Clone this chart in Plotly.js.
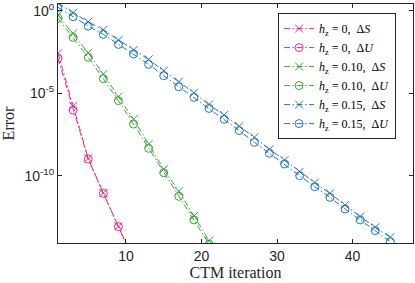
<!DOCTYPE html>
<html>
<head>
<meta charset="utf-8">
<script src="https://cdn.plot.ly/plotly-3.0.1.min.js"></script>
<style>html,body{margin:0;padding:0;background:#fff;}#chart{width:415px;height:283px;}</style>
</head>
<body>
<div id="chart"></div>
<script>
// CTM iterations (markers every 2 iterations)
const iterPink = [1, 3, 5, 7, 9, 11];
const pinkS = [-2.58, -5.78, -8.95, -11.05, -13.07, -15.1];   // log10 error
const pinkU = [-2.88, -6.02, -9.0, -11.07, -13.09, -15.12];

const iterGreen = [1, 3, 5, 7, 9, 11, 13, 15, 17, 19, 21];
const greenS = [-0.26, -1.37, -2.55, -3.84, -5.21, -6.58, -8.08, -9.61, -10.95, -12.44, -13.94];
const greenU = [-0.46, -1.61, -2.82, -4.12, -5.45, -6.87, -8.34, -9.82, -11.25, -12.68, -14.15];

const iterBlue = [1, 3, 5, 7, 9, 11, 13, 15, 17, 19, 21, 23, 25, 27, 29, 31, 33, 35, 37, 39, 41, 43, 45];
const blueS = [0.45, -0.12, -0.67, -1.17, -1.78, -2.38, -2.95, -3.64, -4.30, -4.97, -5.68, -6.32, -7.0, -7.67, -8.40, -9.05, -9.76, -10.42, -11.07, -11.78, -12.48, -13.13, -13.73];
const blueU = [0.21, -0.36, -0.93, -1.43, -2.04, -2.62, -3.25, -3.94, -4.61, -5.25, -5.92, -6.58, -7.27, -7.98, -8.64, -9.29, -10.0, -10.67, -11.31, -12.02, -12.68, -13.33, -14.0];

const seriesNames = [
  '<i>h</i><sub>z</sub> = 0,  Δ<i>S</i>',
  '<i>h</i><sub>z</sub> = 0,  Δ<i>U</i>',
  '<i>h</i><sub>z</sub> = 0.10,  Δ<i>S</i>',
  '<i>h</i><sub>z</sub> = 0.10,  Δ<i>U</i>',
  '<i>h</i><sub>z</sub> = 0.15,  Δ<i>S</i>',
  '<i>h</i><sub>z</sub> = 0.15,  Δ<i>U</i>'
];
const colors = ['#e7298a', '#3ba33b', '#2477bb'];

const yTickVals = [1, 1e-5, 1e-10];
const yTickText = ['10<sup>0</sup>', '10<sup>-5</sup>', '10<sup>-10</sup>'];
const xTickVals = [10, 20, 30, 40];

const pow = a => a.map(v => Math.pow(10, v));
const dash = '6px,2.5px,1.5px,2.5px';

function tr(x, y, name, color, sym) {
  return {
    x: x, y: pow(y), name: name, type: 'scatter', mode: 'lines+markers',
    line: {color: color, width: 1, dash: dash},
    marker: {symbol: sym, size: 8, color: color, line: {color: color, width: 1}},
    cliponaxis: true
  };
}

const data = [
  tr(iterPink, pinkS, seriesNames[0], colors[0], 'x-thin-open'),
  tr(iterPink, pinkU, seriesNames[1], colors[0], 'circle-open'),
  tr(iterGreen, greenS, seriesNames[2], colors[1], 'x-thin-open'),
  tr(iterGreen, greenU, seriesNames[3], colors[1], 'circle-open'),
  tr(iterBlue, blueS, seriesNames[4], colors[2], 'x-thin-open'),
  tr(iterBlue, blueU, seriesNames[5], colors[2], 'circle-open')
];

const axisCommon = {
  showgrid: false, zeroline: false, showline: true, linecolor: '#262626', linewidth: 1,
  mirror: 'ticks', ticks: 'inside', ticklen: 4, tickcolor: '#262626',
  tickfont: {family: 'Liberation Sans, Arial, sans-serif', size: 14, color: '#262626'}
};

const layout = {
  width: 415, height: 283,
  margin: {l: 58, r: 2, t: 4, b: 40},
  paper_bgcolor: '#fff', plot_bgcolor: '#fff',
  showlegend: true,
  xaxis: Object.assign({}, axisCommon, {
    range: [1, 48], tickvals: xTickVals,
    title: {text: 'CTM iteration', font: {family: 'Liberation Serif, serif', size: 16, color: '#262626'}, standoff: 3}
  }),
  yaxis: Object.assign({}, axisCommon, {
    type: 'log', range: [-14.08, 0.41], tickvals: yTickVals, ticktext: yTickText,
    title: {text: 'Error', font: {family: 'Liberation Serif, serif', size: 16, color: '#262626'}, standoff: 6}
  }),
  legend: {
    x: 0.62, y: 0.962, xanchor: 'left', yanchor: 'top',
    bgcolor: '#fff', bordercolor: '#262626', borderwidth: 1,
    font: {family: 'Liberation Serif, serif', size: 12, color: '#000'},
    tracegroupgap: 0, itemwidth: 30
  }
};

Plotly.newPlot('chart', data, layout, {displayModeBar: false, staticPlot: true});
</script>
</body>
</html>
